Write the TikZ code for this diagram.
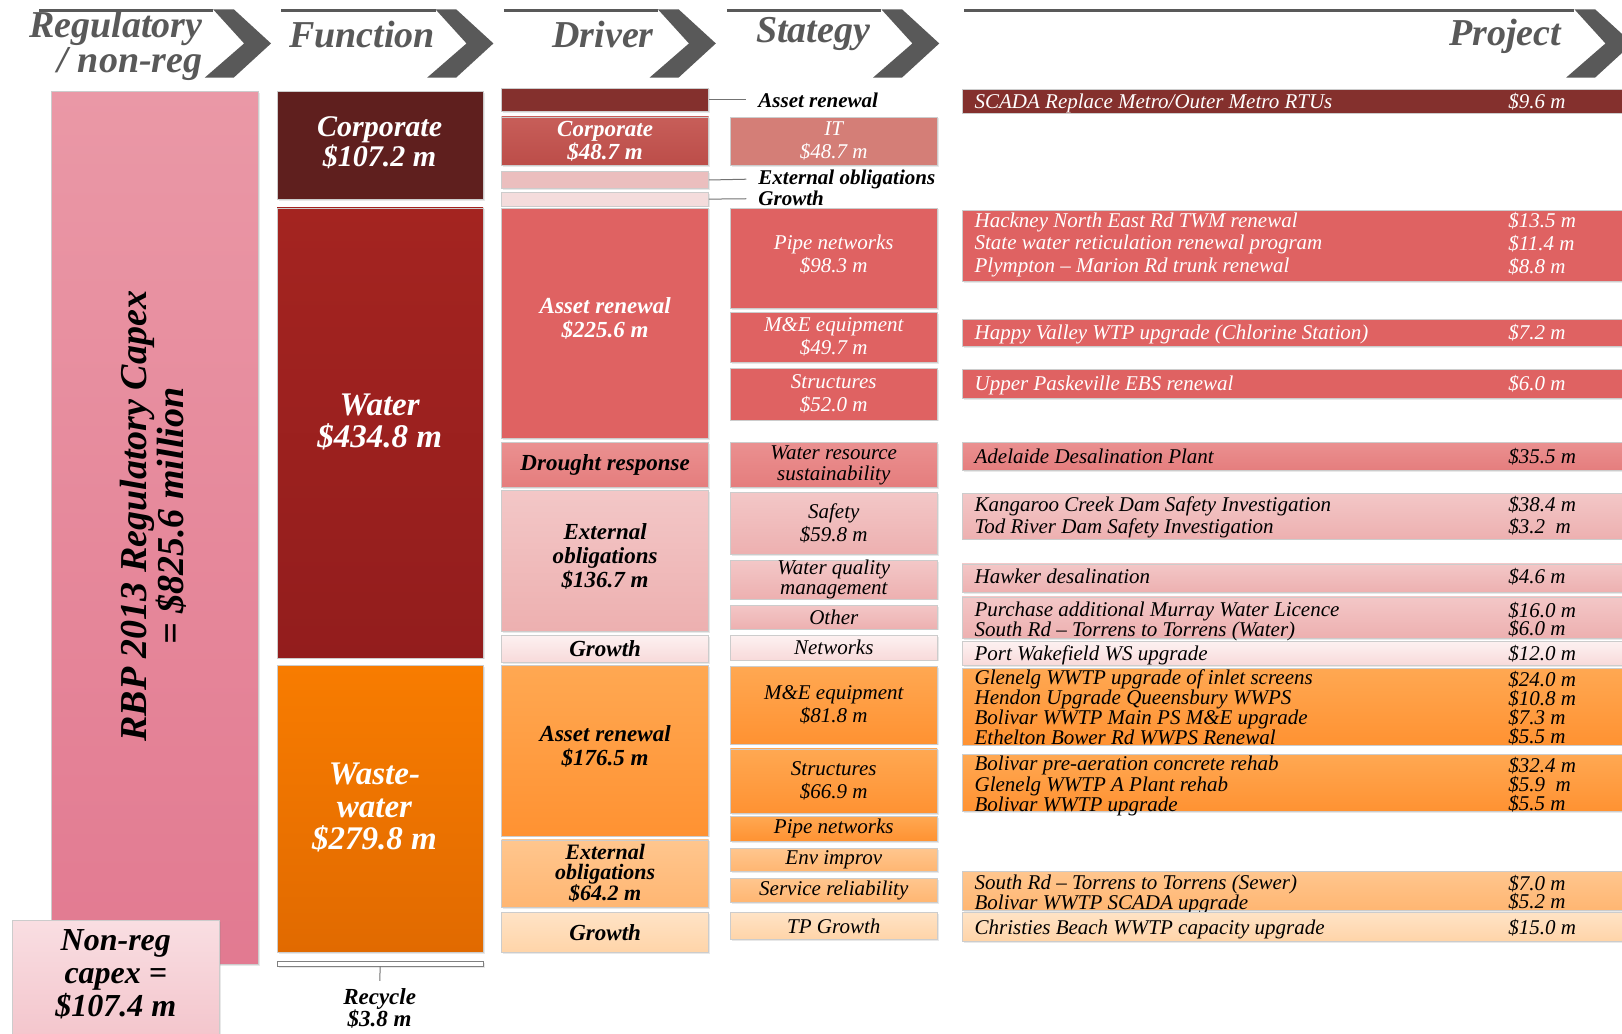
\documentclass[tikz,border=0pt]{standalone}
\usepackage{fontspec}
\setmainfont{Liberation Serif}
\usetikzlibrary{fit,shadows}

\newcommand{\fsz}[2]{\fontsize{#1}{#2}\selectfont}

\definecolor{hdrgray}{HTML}{595959}
\definecolor{regtop}{HTML}{EA98A6}
\definecolor{regbot}{HTML}{E27A91}
\definecolor{nrtop}{HTML}{F9DEE2}
\definecolor{nrbot}{HTML}{F3C4CB}
\definecolor{corpdark}{HTML}{5F1F1E}
\definecolor{corpmid}{HTML}{84302D}
\definecolor{corptop}{HTML}{C75E59}
\definecolor{corpbot}{HTML}{BC4D49}
\definecolor{itred}{HTML}{D47E77}
\definecolor{cpale}{HTML}{EBBEBE}
\definecolor{clight}{HTML}{F4DCDC}
\definecolor{wattop}{HTML}{A42420}
\definecolor{watbot}{HTML}{931D1D}
\definecolor{watred}{HTML}{DF6262}
\definecolor{midtop}{HTML}{EA9090}
\definecolor{midbot}{HTML}{E57D7D}
\definecolor{paletop}{HTML}{F3C7C7}
\definecolor{palebot}{HTML}{EDB0B0}
\definecolor{lighttop}{HTML}{FDF1F1}
\definecolor{lightbot}{HTML}{F8DADA}
\definecolor{wwtop}{HTML}{F87C00}
\definecolor{wwbot}{HTML}{E16A00}
\definecolor{ortop}{HTML}{FFA852}
\definecolor{orbot}{HTML}{FF9232}
\definecolor{optop}{HTML}{FFC68E}
\definecolor{opbot}{HTML}{FFB672}
\definecolor{oltop}{HTML}{FFE3C6}
\definecolor{olbot}{HTML}{FFD4A8}

\begin{document}
\begin{tikzpicture}[x=1.0344pt, y=-1.0344pt,
    cellbox/.style={draw=black!20, line width=.5pt, inner sep=0pt,
      drop shadow={shadow xshift=1.5pt, shadow yshift=-1.5pt, opacity=.18}},
    hdr/.style={font=\fsz{38}{35}\bfseries\itshape, text=hdrgray, inner sep=0pt},
    fnlbl/.style={font=\fsz{30}{30}\bfseries\itshape, text=white, align=center},
    drvtxt/.style={font=\fsz{23}{23.8}\bfseries\itshape, align=center},
    strtxt/.style={font=\fsz{21}{23}\itshape, align=center},
    prj/.style={font=\fsz{21}{#1}\itshape, anchor=west, align=left, inner sep=0pt, yshift=-3pt,
      execute at begin node=\strut, execute at end node=\strut},
    prj/.default=22.8,
    lbl/.style={font=\fsz{21}{21}\bfseries\itshape, anchor=west, inner sep=0pt},
    link/.style={black!55, line width=1pt}]

  \fill[white] (0,0) rectangle (1568,999);
  \useasboundingbox (0,0) rectangle (1568,999);

  % headers
  \foreach \a/\b in {38/206,272/421,487/636,703/852,932/1522}
    \draw[hdrgray, line width=3pt] (\a,10.5) -- (\b,10.5);
  \foreach \x in {206,421,636,852,1522}
    \fill[hdrgray] (\x,9) -- ++(20,0) -- ++(36,33) -- ++(-36,33) -- ++(-28,0) -- ++(38,-33) -- cycle;
  \node[hdr, anchor=east, align=right] (hdrReg) at (196,44) {Regulatory\\/ non-reg};
  \node[hdr] (hdrFun) at (350,33) {Function};
  \node[hdr] (hdrDrv) at (583,33) {Driver};
  \node[hdr] (hdrStr) at (786,33) {Stategy};
  \node[hdr] (hdrPrj) at (1455,35) {Project};

  % regulatory / non-reg
  \node[cellbox, top color=regtop, bottom color=regbot, fit={(50,88)(250,932)}] (reg) {};
  \node[rotate=90, font=\fsz{38}{37}\bfseries\itshape, align=center] (regTxt) at (148,499)
    {RBP 2013 Regulatory Capex\\= \$825.6 million};
  \node[cellbox, top color=nrtop, bottom color=nrbot, fit={(12,890)(212,1010)}] (nonreg) {};
  \node[font=\fsz{32}{33}\bfseries\itshape, align=center] (nonregTxt) at (112,942)
    {Non-reg\\capex =\\\$107.4 m};

  % function
  \node[cellbox, fill=corpdark, fit={(268,88)(467,193)}] (fnCorp) {};
  \node[fnlbl] (fnCorpTxt) at (367,138) {Corporate\\\$107.2 m};
  \node[cellbox, top color=wattop, bottom color=watbot, fit={(268,201)(467,636)}] (fnWat) {};
  \node[fnlbl, font=\fsz{33}{32}\bfseries\itshape] (fnWatTxt) at (367,408) {Water\\\$434.8 m};
  \node[cellbox, top color=wwtop, bottom color=wwbot, fit={(268,643)(467,921)}] (fnWw) {};
  \node[fnlbl, font=\fsz{33}{32.5}\bfseries\itshape] (fnWwTxt) at (362,781) {Waste-\\water\\\$279.8 m};
  \node[cellbox, fill=white, draw=black!50, fit={(268,929)(467,934)}] (fnRcy) {};
  \node[lbl, anchor=north, align=center, font=\fsz{23}{22}\bfseries\itshape] (fnRcyTxt) at (367,955)
    {Recycle\\\$3.8 m};
  \draw[link, shorten >=7pt] (fnRcy.south) -- (fnRcyTxt.north);

  % driver
  \node[cellbox, fill=corpmid, fit={(485,85)(685,108)}] (drvCorpAR) {};
  \node[cellbox, top color=corptop, bottom color=corpbot, fit={(485,113)(685,160)},
    label={[drvtxt, text=white]center:Corporate\\\$48.7 m}] (drvCorp) {};
  \node[cellbox, fill=cpale, fit={(485,166)(685,182)}] (drvCorpEO) {};
  \node[cellbox, fill=clight, fit={(485,186)(685,199)}] (drvCorpGr) {};
  \node[lbl] (lblAR) at (733,96.5) {Asset renewal};
  \node[lbl] (lblEO) at (733,173) {External obligations};
  \node[lbl] (lblGr) at (733,192) {Growth};
  \draw[link, shorten >=12pt] (drvCorpAR.east) -- (lblAR.west);
  \draw[link, shorten >=12pt] (drvCorpEO.east) -- (lblEO.west);
  \draw[link, shorten >=12pt] (drvCorpGr.east) -- (lblGr.west);

  \node[cellbox, fill=watred, fit={(485,201)(685,424)},
    label={[drvtxt, text=white, yshift=5pt]center:Asset renewal\\\$225.6 m}] (drvWatAR) {};
  \node[cellbox, top color=midtop, bottom color=midbot, fit={(485,428)(685,471)},
    label={[drvtxt]center:Drought response}] (drvDrought) {};
  \node[cellbox, top color=paletop, bottom color=palebot, fit={(485,474)(685,610)},
    label={[drvtxt, yshift=4pt]center:External\\obligations\\\$136.7 m}] (drvWatEO) {};
  \node[cellbox, top color=lighttop, bottom color=lightbot, fit={(485,614)(685,640)},
    label={[drvtxt]center:Growth}] (drvWatGr) {};
  \node[cellbox, top color=ortop, bottom color=orbot, fit={(485,643)(685,808)},
    label={[drvtxt, yshift=4pt]center:Asset renewal\\\$176.5 m}] (drvWwAR) {};
  \node[cellbox, top color=optop, bottom color=opbot, fit={(485,812)(685,877)},
    label={[drvtxt, font=\fsz{22}{19.5}\bfseries\itshape]center:External\\obligations\\\$64.2 m}] (drvWwEO) {};
  \node[cellbox, top color=oltop, bottom color=olbot, fit={(485,882)(685,921)},
    label={[drvtxt]center:Growth}] (drvWwGr) {};

  % strategy
  \node[cellbox, fill=itred, fit={(706,113)(906,160)},
    label={[strtxt, text=white]center:IT\\\$48.7 m}] (strIT) {};
  \node[cellbox, fill=watred, fit={(706,201)(906,298)},
    label={[strtxt, text=white, yshift=4pt]center:Pipe networks\\\$98.3 m}] (strPipe) {};
  \node[cellbox, fill=watred, fit={(706,302)(906,350)},
    label={[strtxt, text=white]center:M\&E equipment\\\$49.7 m}] (strME) {};
  \node[cellbox, fill=watred, fit={(706,356)(906,406)},
    label={[strtxt, text=white]center:Structures\\\$52.0 m}] (strStruct) {};
  \node[cellbox, top color=midtop, bottom color=midbot, fit={(706,428)(906,471)},
    label={[strtxt, font=\fsz{21}{21}\itshape]center:Water resource\\sustainability}] (strWRS) {};
  \node[cellbox, top color=paletop, bottom color=palebot, fit={(706,476)(906,536)},
    label={[strtxt]center:Safety\\\$59.8 m}] (strSafety) {};
  \node[cellbox, top color=paletop, bottom color=palebot, fit={(706,542)(906,579)},
    label={[strtxt, font=\fsz{21}{20}\itshape]center:Water quality\\management}] (strWQM) {};
  \node[cellbox, top color=paletop, bottom color=palebot, fit={(706,585)(906,608)},
    label={[strtxt]center:Other}] (strOther) {};
  \node[cellbox, top color=lighttop, bottom color=lightbot, fit={(706,614)(906,638)},
    label={[strtxt]center:Networks}] (strNet) {};
  \node[cellbox, top color=ortop, bottom color=orbot, fit={(706,644)(906,719)},
    label={[strtxt]center:M\&E equipment\\\$81.8 m}] (strWwME) {};
  \node[cellbox, top color=ortop, bottom color=orbot, fit={(706,724)(906,786)},
    label={[strtxt]center:Structures\\\$66.9 m}] (strWwStruct) {};
  \node[cellbox, top color=ortop, bottom color=orbot, fit={(706,789)(906,813)},
    label={[strtxt]center:Pipe networks}] (strWwPipe) {};
  \node[cellbox, top color=optop, bottom color=opbot, fit={(706,820)(906,842)},
    label={[strtxt]center:Env improv}] (strEnv) {};
  \node[cellbox, top color=optop, bottom color=opbot, fit={(706,849)(906,872)},
    label={[strtxt]center:Service reliability}] (strSvc) {};
  \node[cellbox, top color=oltop, bottom color=olbot, fit={(706,882)(906,908)},
    label={[strtxt]center:TP Growth}] (strTP) {};

  % projects
  \node[cellbox, fill=corpmid, fit={(930,86)(1580,109)}] (pjScada) {};
  \node[prj, text=white] (pjScadaTxt) at (942,97.5) {SCADA Replace Metro/Outer Metro RTUs};
  \node[prj, text=white] (pjScadaAmt) at (1458,97.5) {\$9.6 m};

  \node[cellbox, fill=watred, fit={(930,203)(1580,272)}] (pjHack) {};
  \node[prj, text=white] (pjHackTxt) at (942,235)
    {Hackney North East Rd TWM renewal\\State water reticulation renewal program\\Plympton – Marion Rd trunk renewal};
  \node[prj, text=white] (pjHackAmt) at (1458,235) {\$13.5 m\\\$11.4 m\\\$8.8 m};

  \node[cellbox, fill=watred, fit={(930,309)(1580,335)}] (pjHappy) {};
  \node[prj, text=white] (pjHappyTxt) at (942,321) {Happy Valley WTP upgrade (Chlorine Station)};
  \node[prj, text=white] (pjHappyAmt) at (1458,321) {\$7.2 m};

  \node[cellbox, fill=watred, fit={(930,357)(1580,385)}] (pjUpper) {};
  \node[prj, text=white] (pjUpperTxt) at (942,370) {Upper Paskeville EBS renewal};
  \node[prj, text=white] (pjUpperAmt) at (1458,370) {\$6.0 m};

  \node[cellbox, top color=midtop, bottom color=midbot, fit={(930,428)(1580,455)}] (pjDesal) {};
  \node[prj] (pjDesalTxt) at (942,441) {Adelaide Desalination Plant};
  \node[prj] (pjDesalAmt) at (1458,441) {\$35.5 m};

  \node[cellbox, top color=paletop, bottom color=palebot, fit={(930,477)(1580,521)}] (pjDam) {};
  \node[prj=21.7] (pjDamTxt) at (942,498) {Kangaroo Creek Dam Safety Investigation\\Tod River Dam Safety Investigation};
  \node[prj=21.7] (pjDamAmt) at (1458,498) {\$38.4 m\\\$3.2\ \ m};

  \node[cellbox, top color=paletop, bottom color=palebot, fit={(930,545)(1580,573)}] (pjHawker) {};
  \node[prj] (pjHawkerTxt) at (942,557) {Hawker desalination};
  \node[prj] (pjHawkerAmt) at (1458,557) {\$4.6 m};

  \node[cellbox, top color=paletop, bottom color=palebot, fit={(930,577)(1580,617)}] (pjMurray) {};
  \node[prj=18.6] (pjMurrayTxt) at (942,598) {Purchase additional Murray Water Licence\\South Rd – Torrens to Torrens (Water)};
  \node[prj=18.6] (pjMurrayAmt) at (1458,598) {\$16.0 m\\\$6.0 m};

  \node[cellbox, top color=lighttop, bottom color=lightbot, fit={(930,620)(1580,643)}] (pjPort) {};
  \node[prj] (pjPortTxt) at (942,631) {Port Wakefield WS upgrade};
  \node[prj] (pjPortAmt) at (1458,631) {\$12.0 m};

  \node[cellbox, top color=ortop, bottom color=orbot, fit={(930,646)(1580,720)}] (pjGlen) {};
  \node[prj=19] (pjGlenTxt) at (942,683.5)
    {Glenelg WWTP upgrade of inlet screens\\Hendon Upgrade Queensbury WWPS\\Bolivar WWTP Main PS M\&E upgrade\\Ethelton Bower Rd WWPS Renewal};
  \node[prj=19] (pjGlenAmt) at (1458,683.5) {\$24.0 m\\\$10.8 m\\\$7.3 m\\\$5.5 m};

  \node[cellbox, top color=ortop, bottom color=orbot, fit={(930,729)(1580,784)}] (pjBol) {};
  \node[prj=19] (pjBolTxt) at (942,757.5)
    {Bolivar pre-aeration concrete rehab\\Glenelg WWTP A Plant rehab\\Bolivar WWTP upgrade};
  \node[prj=19] (pjBolAmt) at (1458,757.5) {\$32.4 m\\\$5.9\ \ m\\\$5.5 m};

  \node[cellbox, top color=optop, bottom color=opbot, fit={(930,842)(1580,880)}] (pjSewer) {};
  \node[prj=18.6] (pjSewerTxt) at (942,862) {South Rd – Torrens to Torrens (Sewer)\\Bolivar WWTP SCADA upgrade};
  \node[prj=18.6] (pjSewerAmt) at (1458,862) {\$7.0 m\\\$5.2 m};

  \node[cellbox, top color=oltop, bottom color=olbot, fit={(930,882)(1580,910)}] (pjChrist) {};
  \node[prj] (pjChristTxt) at (942,896) {Christies Beach WWTP capacity upgrade};
  \node[prj] (pjChristAmt) at (1458,896) {\$15.0 m};
\end{tikzpicture}
\end{document}
